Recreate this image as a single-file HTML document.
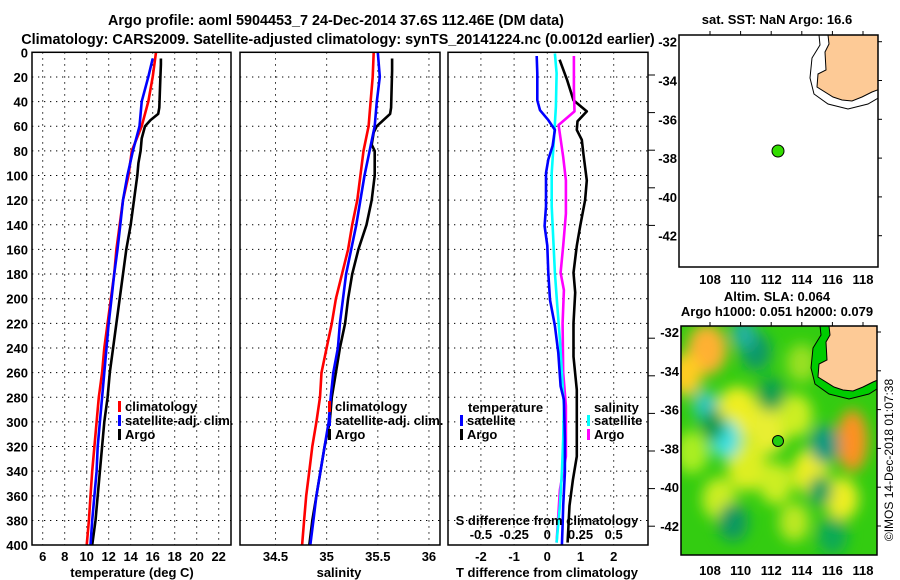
<!DOCTYPE html>
<html><head><meta charset="utf-8"><style>
html,body{margin:0;padding:0;background:#fff}
svg{display:block}
text{font-family:"Liberation Sans",Arial,sans-serif;font-weight:bold;font-size:13px;fill:#000}
</style></head><body>
<svg id="chart" width="900" height="580" viewBox="0 0 900 580" xmlns="http://www.w3.org/2000/svg">
<defs>
<filter id="blur" x="-20%" y="-20%" width="140%" height="140%"><feGaussianBlur stdDeviation="7"/></filter>
<clipPath id="clipSla"><rect x="681" y="326" width="196" height="229"/></clipPath>
<clipPath id="clipSst"><rect x="679" y="35" width="199" height="232"/></clipPath>
</defs>
<text x="336" y="25" text-anchor="middle" style="font-size:14.4px">Argo profile: aoml 5904453_7 24-Dec-2014 37.6S 112.46E (DM data)</text>
<text x="338" y="44" text-anchor="middle" style="font-size:14.4px">Climatology: CARS2009. Satellite-adjusted climatology: synTS_20141224.nc (0.0012d earlier)</text>
<g id="grids"></g>
<g id="marks"></g>
<g id="frames"></g>
<g id="labels"></g>
<text x="132" y="577" text-anchor="middle">temperature (deg C)</text>
<text x="339" y="577" text-anchor="middle">salinity</text>
<text x="547" y="577" text-anchor="middle">T difference from climatology</text>
<text x="547" y="525" text-anchor="middle">S difference from climatology</text>
<g>
<rect x="118" y="401" width="3" height="11" fill="#f00"/><text x="125" y="411">climatology</text>
<rect x="118" y="415" width="3" height="11" fill="#00f"/><text x="125" y="425">satellite-adj. clim.</text>
<rect x="118" y="429" width="3" height="11" fill="#000"/><text x="125" y="439">Argo</text>
</g>
<g>
<rect x="328" y="401" width="3" height="11" fill="#f00"/><text x="335" y="411">climatology</text>
<rect x="328" y="415" width="3" height="11" fill="#00f"/><text x="335" y="425">satellite-adj. clim.</text>
<rect x="328" y="429" width="3" height="11" fill="#000"/><text x="335" y="439">Argo</text>
</g>
<g>
<text x="468" y="412">temperature</text>
<rect x="460" y="415" width="3" height="11" fill="#00f"/><text x="467" y="425">satellite</text>
<rect x="460" y="429" width="3" height="11" fill="#000"/><text x="467" y="439">Argo</text>
<text x="594" y="412">salinity</text>
<rect x="587" y="415" width="3" height="11" fill="#0ff"/><text x="594" y="425">satellite</text>
<rect x="587" y="429" width="3" height="11" fill="#f0f"/><text x="594" y="439">Argo</text>
</g>
<text x="777" y="24" text-anchor="middle">sat. SST: NaN Argo: 16.6</text>
<rect x="679" y="35" width="199" height="232" fill="#fff"/>
<g clip-path="url(#clipSst)">
<path d="M819,35 L820,45 L812,58 L810,78 L814,94 L828,104 L848,109 L868,104 L880,97 L880,35 Z" fill="#fff" stroke="#000" stroke-width="1"/>
<path d="M828,35 L829,44 L825,52 L826,70 L818,74 L817,87 L833,97 L842,100 L852,101 L862,97 L872,92 L880,89 L880,35 Z" fill="#fdca96" stroke="#000" stroke-width="1"/>
</g>
<circle cx="778" cy="151" r="6" fill="#33dd00" stroke="#000" stroke-width="1"/>
<rect x="679" y="35" width="199" height="232" fill="none" stroke="#000" stroke-width="1.5"/>
<text x="777" y="301" text-anchor="middle">Altim. SLA: 0.064</text>
<text x="777" y="316" text-anchor="middle">Argo h1000: 0.051 h2000: 0.079</text>
<g clip-path="url(#clipSla)">
<rect x="681" y="326" width="196" height="229" fill="#33cc11"/>
<g id="slaBlobs" filter="url(#blur)"></g>
<path d="M820,326 L821,335 L813,348 L811,368 L815,384 L829,394 L849,399 L869,394 L880,387 L880,326 Z" fill="#00cc00" stroke="#000" stroke-width="1"/>
<path d="M829,326 L830,335 L826,342 L827,360 L819,364 L818,377 L834,387 L843,390 L853,391 L863,387 L873,382 L880,379 L880,326 Z" fill="#fdca96" stroke="#000" stroke-width="1"/>
</g>
<circle cx="778" cy="441" r="5.5" fill="#22cc11" stroke="#000" stroke-width="1"/>
<rect x="681" y="326" width="196" height="229" fill="none" stroke="#000" stroke-width="1.5"/>
<g id="mapTicks"></g>
<text transform="translate(893,460) rotate(-90)" text-anchor="middle" style="font-weight:normal;font-size:12px">©IMOS 14-Dec-2018 01:07:38</text>
</svg>
<script>
// ---- data ----
const depthTicks = [0,20,40,60,80,100,120,140,160,180,200,220,240,260,280,300,320,340,360,380,400];
const tempTicks = [6,8,10,12,14,16,18,20,22];
const salTicks = [34.5,35,35.5,36];
const salTickLabels = ["34.5","35","35.5","36"];
const tdiffTicks = [-2,-1,0,1,2];
const sdiffTicks = [-0.5,-0.25,0,0.25,0.5];
const sdiffTickLabels = ["-0.5","-0.25","0","0.25","0.5"];

const climDepth = [0,20,40,60,80,100,120,140,160,180,200,220,240,260,280,300,320,340,360,380,400];
const satDepth = [5,20,40,60,80,100,120,140,160,180,200,220,240,260,280,300,320,340,360,380,400];
const climTemp = [16.3,16.0,15.6,15.0,14.1,13.8,13.3,13.0,12.7,12.5,12.2,11.9,11.6,11.4,11.1,10.9,10.7,10.5,10.35,10.2,10.0];
const satTemp  = [16.0,15.6,15.0,14.8,14.2,13.7,13.3,13.05,12.8,12.5,12.25,12.0,11.8,11.6,11.4,11.2,11.0,10.9,10.7,10.5,10.35];
const argoDepth = [5,10,20,45,50,55,60,70,80,90,100,120,140,160,180,200,220,240,260,280,300,320,340,360,380,400];
const argoTemp = [16.75,16.75,16.7,16.6,16.5,15.8,15.3,15.0,14.9,14.7,14.6,14.3,14.0,13.6,13.3,13.0,12.7,12.4,12.1,11.9,11.6,11.4,11.2,11.0,10.8,10.5];

const climSal = [35.46,35.45,35.43,35.41,35.36,35.33,35.30,35.25,35.21,35.15,35.09,35.05,35.0,34.95,34.935,34.90,34.86,34.83,34.80,34.78,34.76];
const satSal  = [35.50,35.52,35.49,35.47,35.42,35.37,35.33,35.29,35.24,35.19,35.16,35.13,35.11,35.065,35.04,35.02,34.98,34.94,34.90,34.87,34.84];
const argoSalDepth = [5,15,45,50,60,65,75,80,90,100,120,140,160,180,200,220,240,260,280,300,320,340,360,380,400];
const argoSal = [35.64,35.64,35.63,35.62,35.49,35.46,35.44,35.47,35.47,35.47,35.44,35.39,35.31,35.25,35.21,35.18,35.13,35.09,35.05,35.03,34.98,34.94,34.90,34.86,34.83];

const satTdDepth = [3,17,39,47,55,63,76,87,98,125,141,157,179,201,222,244,271,282,314,341,368,384,400];
const satTdiff = [-0.32,-0.30,-0.30,-0.22,0.03,0.23,0.16,0.03,-0.04,-0.04,-0.08,0,0.03,0.08,0.23,0.33,0.40,0.50,0.53,0.53,0.48,0.46,0.44];
const argoTdDepth = [6,22,39,48,56,63,71,83,104,120,141,157,179,195,220,247,274,301,328,347,368,398];
const argoTdiff = [0.37,0.59,0.79,1.19,0.91,0.89,1.04,1.09,1.19,1.14,0.99,0.89,0.79,0.84,0.79,0.79,0.89,0.89,0.89,0.77,0.67,0.61];
const satSdDepth = [1,17,44,71,98,125,152,179,206,233,260,287,314,341,368,398];
const satSdiff = [0.057,0.07,0.065,0.05,0.033,0.033,0.045,0.057,0.075,0.095,0.11,0.125,0.12,0.11,0.095,0.07];
const argoSdDepth = [3,30,48,59,85,104,131,157,179,193,220,260,287,328,355,398];
const argoSdiff = [0.2,0.2,0.205,0.085,0.12,0.14,0.14,0.12,0.1,0.125,0.115,0.12,0.14,0.14,0.095,0.07];

const mapLonTicks = [108,110,112,114,116,118];
const mapLatTicks = [-32,-34,-36,-38,-40,-42];
// SLA field blobs: lon, lat, color, radius (deg)
const slaLon = [107.8,106.4,109.8,111.8,113.6,110.4,114.6,116.6,112.3,106.8,108.6,114.0,117.3,107.7,109.0,111.0,110.2,115.5,112.0,109.5,113.5,116.0,108.2,115.2];
const slaLat = [-32.9,-34.2,-36.2,-37.0,-36.3,-38.9,-39.2,-40.6,-39.8,-38.2,-40.6,-33.6,-37.6,-35.8,-37.5,-33.0,-32.1,-37.8,-35.2,-41.8,-41.8,-42.5,-36.8,-40.2];
const slaColor = ["#ffb030","#ffcc20","#eeee20","#e8ee30","#ccee20","#ddee20","#eeee20","#eeee20","#ccee20","#aaee20","#ccee20","#99e020","#ff9020","#30c8c0","#40e0e0","#119966","#20b0a0","#109980","#10a050","#109960","#bbe820","#11aa55","#0c9a50","#10a060"];
const slaRad = [1.3,1.1,1.4,1.3,1.1,1.3,1.2,1.1,1.1,1.1,1.1,1.0,1.0,0.8,1.0,1.0,0.8,1.0,0.9,1.0,1.0,1.0,0.8,0.8];

// ---- axes ----
const NS = "http://www.w3.org/2000/svg";
const yD = d => 52.3 + d * 1.232;
const xT = t => 42.7 + (t - 6) * 11;
const xS = s => 275.5 + (s - 34.5) * 102.3;
const xTd = v => 547.3 + v * 33.2;
const xSd = v => 547.3 + v * 4 * 33.2;
const mapX = lon => 710 + (lon - 108) * 15.3;
const mapYTop = lat => 41.7 + (-32 - lat) * 19.4;
const mapYBot = lat => 332 + (-32 - lat) * 19.4;
const panels = [{x0:32,x1:231},{x0:240,x1:440},{x0:448,x1:648}];

function mk(tag, attrs, parent){const e=document.createElementNS(NS,tag);for(const k in attrs)e.setAttribute(k,attrs[k]);parent.appendChild(e);return e;}
const grids=document.getElementById('grids'), marks=document.getElementById('marks'), frames=document.getElementById('frames'), labels=document.getElementById('labels'), mapTicks=document.getElementById('mapTicks'), slaBlobs=document.getElementById('slaBlobs');

panels.forEach((p,pi)=>{
  depthTicks.forEach(d=>{
    if(d===0||d===400) return;
    const l=mk('line',{x1:p.x0,x2:p.x1,y1:yD(d),y2:yD(d),stroke:'#000','stroke-width':1,'stroke-dasharray':'1.3 4.7'},grids);
    
    
  });
});
function vgrid(ticks, fx){ticks.forEach(t=>{const x=fx(t);
  const l=mk('line',{x1:x,x2:x,y1:52.3,y2:545,stroke:'#000','stroke-width':1,'stroke-dasharray':'1.3 4.7'},grids);
  
  });}
vgrid(tempTicks,xT); vgrid(salTicks,xS); vgrid(tdiffTicks,xTd);

panels.forEach((p,pi)=>{
  const r=mk('rect',{x:p.x0,y:52.3,width:p.x1-p.x0,height:545-52.3,fill:'none',stroke:'#000','stroke-width':1.5},frames);
  
  
});

depthTicks.forEach(d=>{
  const t=mk('text',{x:28,y:yD(d)+5,'text-anchor':'end'},labels);
  t.textContent=d;
  
  
});
tempTicks.forEach(v=>{
  const t=mk('text',{x:xT(v),y:561,'text-anchor':'middle'},labels);
  t.textContent=v;
  
  
});
salTicks.forEach((v,i)=>{
  const t=mk('text',{x:xS(v),y:561,'text-anchor':'middle'},labels);
  t.textContent=salTickLabels[i];
  
  
});
tdiffTicks.forEach(v=>{
  const t=mk('text',{x:xTd(v),y:561,'text-anchor':'middle'},labels);
  t.textContent=v;
  
  
});
sdiffTicks.forEach((v,i)=>{
  const t=mk('text',{x:xSd(v),y:539,'text-anchor':'middle'},labels);
  t.textContent=sdiffTickLabels[i];
  
  
});
for(let i=0;i<13;i++){const y=75+i*37.6; if(i===5||i===6) continue;
  const l=mk('line',{x1:648,x2:655,y1:y,y2:y,stroke:'#000','stroke-width':1},frames);
  
  
}

function line(depths, vals, fx, color, name){
  const pts=depths.map((d,i)=>fx(vals[i]).toFixed(1)+','+yD(d).toFixed(1)).join(' ');
  const pl=mk('polyline',{points:pts,fill:'none',stroke:color,'stroke-width':2.6,'stroke-linejoin':'round'},marks);
  
  
}
line(climDepth, climTemp, xT, '#ff0000', 'temperature-climatology-line');
line(argoDepth, argoTemp, xT, '#000000', 'temperature-argo-line');
line(satDepth, satTemp, xT, '#0000ff', 'temperature-satellite-line');
line(climDepth, climSal, xS, '#ff0000', 'salinity-climatology-line');
line(argoSalDepth, argoSal, xS, '#000000', 'salinity-argo-line');
line(climDepth, satSal, xS, '#0000ff', 'salinity-satellite-line');
line(argoTdDepth, argoTdiff, xTd, '#000000', 't-difference-argo-line');
line(argoSdDepth, argoSdiff, xSd, '#ff00ff', 's-difference-argo-line');
line(satSdDepth, satSdiff, xSd, '#00ffff', 's-difference-satellite-line');
line(satTdDepth, satTdiff, xTd, '#0000ff', 't-difference-satellite-line');

slaLon.forEach((lon,i)=>{
  const c=mk('ellipse',{cx:mapX(lon),cy:mapYBot(slaLat[i]),rx:slaRad[i]*15.3,ry:slaRad[i]*19.4*(i===12?1.6:1),fill:slaColor[i]},slaBlobs);
  
  
});

[[mapYTop,35,267,679,878,284],[mapYBot,326,555,681,877,575]].forEach((m,mi)=>{
  const [fy,top,bot,left,right,lby]=m;
  mapLonTicks.forEach(lon=>{
    const x=mapX(lon);
    const tk=mk('line',{x1:x,x2:x,y1:top,y2:top-4,stroke:'#000'},mapTicks);
    
    
    const t=mk('text',{x:x,y:lby,'text-anchor':'middle'},mapTicks);
    t.textContent=lon;
    
    
  });
  mapLatTicks.forEach(lat=>{
    const y=fy(lat);
    const tk=mk('line',{x1:right,x2:right+4,y1:y,y2:y,stroke:'#000'},mapTicks);
    
    
    const t=mk('text',{x:left-2,y:y+5,'text-anchor':'end'},mapTicks);
    t.textContent=lat;
    
    
  });
});
</script>
</body></html>
